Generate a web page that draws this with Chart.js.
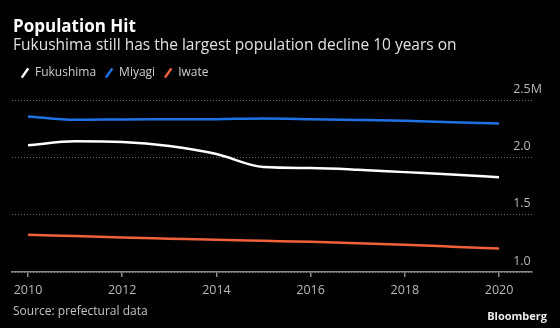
<!DOCTYPE html>
<html>
<head>
<meta charset="utf-8">
<script src="https://cdn.jsdelivr.net/npm/chart.js@4/dist/chart.umd.min.js"></script>
<style>
  html, body { margin: 0; padding: 0; background: #000; }
  #wrap { width: 560px; height: 328px; position: relative; overflow: hidden; background: #000; }
  #c { position: absolute; left: 0; top: 0; }
  .t { position: absolute; white-space: nowrap; line-height: 1; font-family: "Open Sans", Roboto, sans-serif; }
  #title { left: 13px; top: 17.2px; font-size: 17px; font-weight: 700; color: #ffffff; }
  #subtitle { left: 13px; top: 36.9px; font-size: 15.5px; color: #e2e2e2; }
  #source { left: 13px; top: 305px; font-size: 12px; color: #c4c4c4; }
  #brand { right: 13px; top: 309.5px; font-size: 11px; font-weight: 700; color: #ececec; }
</style>
</head>
<body>
<div id="wrap">
  <canvas id="c" width="560" height="328"></canvas>
  <div class="t" id="title">Population Hit</div>
  <div class="t" id="subtitle">Fukushima still has the largest population decline 10 years on</div>
  <div class="t" id="source">Source: prefectural data</div>
  <div class="t" id="brand">Bloomberg</div>
</div>
<script>
const years = [2010, 2011, 2012, 2013, 2014, 2015, 2016, 2017, 2018, 2019, 2020];
const fukushima = [2.105, 2.140, 2.134, 2.099, 2.029, 1.915, 1.906, 1.892, 1.871, 1.851, 1.827];
const miyagi = [2.357, 2.327, 2.331, 2.332, 2.333, 2.338, 2.333, 2.326, 2.318, 2.307, 2.296];
const iwate = [1.325, 1.313, 1.301, 1.291, 1.281, 1.272, 1.263, 1.250, 1.237, 1.221, 1.204];
const xTicks = [2010, 2012, 2014, 2016, 2018, 2020];
const yTickValues = [1.0, 1.5, 2.0, 2.5];
const yTickLabels = ['1.0', '1.5', '2.0', '2.5M'];

const FONT = '"Open Sans", Roboto, sans-serif';

function series(vals) { return years.map((y, i) => ({ x: y, y: vals[i] })); }

function ds(label, vals, color) {
  return {
    label: label,
    data: series(vals),
    borderColor: color,
    backgroundColor: color,
    borderWidth: 2.5,
    pointRadius: 0,
    pointHoverRadius: 0,
    pointStyle: 'line',
    pointRotation: -55,
    pointBorderWidth: 2.5,
    pointBorderColor: color,
    cubicInterpolationMode: 'monotone'
  };
}

const legendGap = {
  id: 'legendGap',
  beforeInit(chart) {
    const lg = chart.legend;
    if (!lg) return;
    const origFit = lg.fit;
    lg.fit = function () {
      origFit.call(this);
      this.height += 11;
    };
  }
};

new Chart(document.getElementById('c'), {
  type: 'line',
  data: {
    datasets: [
      ds('Fukushima', fukushima, '#ffffff'),
      ds('Miyagi', miyagi, '#1f72e6'),
      ds('Iwate', iwate, '#f0603a')
    ]
  },
  options: {
    responsive: false,
    animation: false,
    devicePixelRatio: 1,
    layout: { padding: { left: 12, right: 8, top: 58, bottom: 24 } },
    plugins: {
      title: { display: false },
      legend: {
        display: true,
        align: 'start',
        position: 'top',
        labels: {
          usePointStyle: true,
          boxWidth: 8,
          boxHeight: 8,
          padding: 9,
          color: '#cfcfcf',
          font: { family: FONT, size: 12 }
        }
      },
      tooltip: { enabled: false }
    },
    scales: {
      x: {
        type: 'linear',
        min: 2009.66,
        max: 2020.7,
        afterBuildTicks(scale) { scale.ticks = xTicks.map(v => ({ value: v })); },
        ticks: {
          color: '#b8b8b8',
          font: { family: FONT, size: 12.5 },
          padding: 6,
          maxRotation: 0,
          callback: (v) => String(v)
        },
        grid: { display: true, drawOnChartArea: false, drawTicks: true, tickLength: 5, color: '#8a8a8a', lineWidth: 1.5 },
        border: { display: true, color: '#8a8a8a', width: 1.5 }
      },
      y: {
        position: 'right',
        min: 1.0,
        max: 2.5,
        afterBuildTicks(scale) { scale.ticks = yTickValues.map(v => ({ value: v })); },
        ticks: {
          color: '#b8b8b8',
          font: { family: FONT, size: 12.5 },
          mirror: true,
          crossAlign: 'far',
          padding: 10,
          labelOffset: -11,
          callback: (v) => yTickLabels[yTickValues.indexOf(v)]
        },
        grid: { display: true, drawTicks: false, color: '#6a6a6a', lineWidth: 1 },
        border: { display: false, dash: [1, 2] }
      }
    }
  },
  plugins: [legendGap]
});
</script>
</body>
</html>
